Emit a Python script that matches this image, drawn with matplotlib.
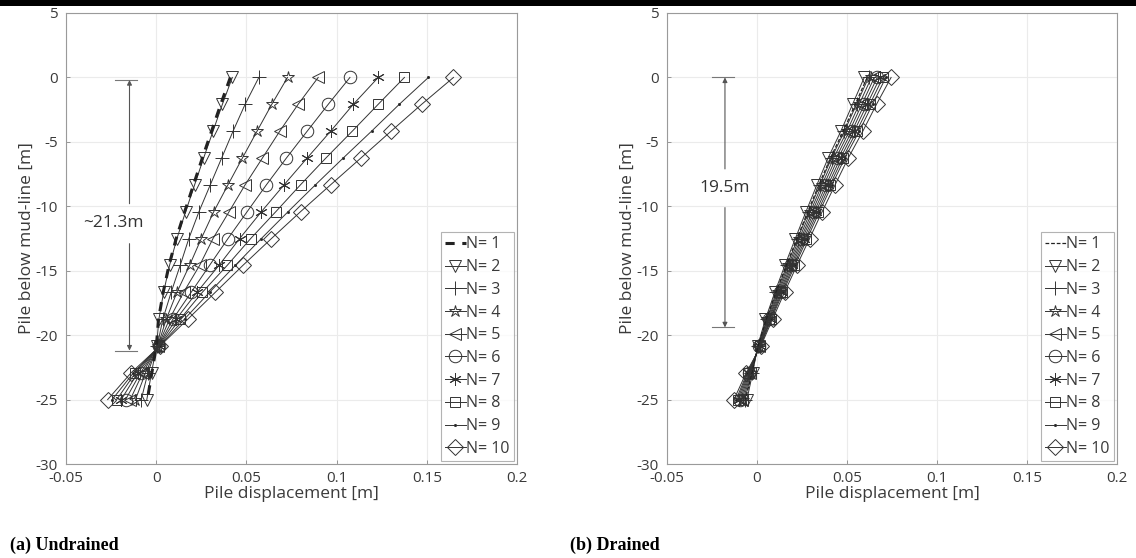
import matplotlib
matplotlib.use("Agg")
import matplotlib.pyplot as plt
from matplotlib.patches import Rectangle

# depth below mud-line [m]
depth = [0, -2.08, -4.17, -6.25, -8.33, -10.42, -12.5, -14.58, -16.67,
         -18.75, -20.83, -22.92, -25]

n_labels = ["N= 1", "N= 2", "N= 3", "N= 4", "N= 5",
            "N= 6", "N= 7", "N= 8", "N= 9", "N= 10"]

# (a) undrained pile displacement [m]
und_n1 = [0.0411, 0.0358, 0.0307, 0.0256, 0.0207, 0.0158, 0.0111, 0.0071, 0.0039, 0.0013, 0.0001, -0.0024, -0.0049]
und_n2 = [0.0422, 0.0367, 0.0315, 0.0263, 0.0213, 0.0163, 0.0115, 0.0074, 0.0041, 0.0015, 0.0002, -0.0026, -0.0052]
und_n3 = [0.0569, 0.0493, 0.0426, 0.0363, 0.0300, 0.0237, 0.0181, 0.0133, 0.0083, 0.0037, 0.0006, -0.0046, -0.0083]
und_n4 = [0.0728, 0.0641, 0.0559, 0.0478, 0.0398, 0.0319, 0.0250, 0.0185, 0.0115, 0.0056, 0.0009, -0.0059, -0.0115]
und_n5 = [0.0898, 0.0787, 0.0685, 0.0589, 0.0493, 0.0404, 0.0315, 0.0241, 0.0152, 0.0074, 0.0011, -0.0074, -0.0144]
und_n6 = [0.1074, 0.0954, 0.0837, 0.0722, 0.0611, 0.0504, 0.0398, 0.0296, 0.0194, 0.0093, 0.0013, -0.0087, -0.0170]
und_n7 = [0.1231, 0.1093, 0.0967, 0.0837, 0.0709, 0.0583, 0.0463, 0.0348, 0.0226, 0.0111, 0.0015, -0.0102, -0.0194]
und_n8 = [0.1376, 0.1231, 0.1087, 0.0941, 0.0800, 0.0663, 0.0524, 0.0394, 0.0256, 0.0133, 0.0017, -0.0115, -0.0219]
und_n9 = [0.1509, 0.1348, 0.1194, 0.1037, 0.0883, 0.0731, 0.0583, 0.0439, 0.0296, 0.0157, 0.0019, -0.0126, -0.0244]
und_n10 = [0.1648, 0.1472, 0.1302, 0.1135, 0.0967, 0.0800, 0.0639, 0.0481, 0.0328, 0.0176, 0.0022, -0.0139, -0.0269]

# (b) drained pile displacement [m]
dr_n1 = [0.0612, 0.0546, 0.0479, 0.0408, 0.0344, 0.0282, 0.0222, 0.0163, 0.0105, 0.0052, 0.0006, -0.0028, -0.0064]
dr_n2 = [0.0596, 0.0531, 0.0466, 0.0395, 0.0333, 0.0272, 0.0213, 0.0155, 0.0099, 0.0047, 0.0004, -0.0024, -0.0056]
dr_n3 = [0.0620, 0.0553, 0.0486, 0.0414, 0.0350, 0.0287, 0.0226, 0.0167, 0.0108, 0.0054, 0.0007, -0.0030, -0.0068]
dr_n4 = [0.0636, 0.0568, 0.0500, 0.0426, 0.0361, 0.0297, 0.0235, 0.0174, 0.0114, 0.0058, 0.0009, -0.0034, -0.0076]
dr_n5 = [0.0652, 0.0583, 0.0513, 0.0439, 0.0372, 0.0307, 0.0244, 0.0181, 0.0120, 0.0063, 0.0011, -0.0038, -0.0084]
dr_n6 = [0.0668, 0.0597, 0.0527, 0.0451, 0.0384, 0.0317, 0.0252, 0.0189, 0.0126, 0.0067, 0.0013, -0.0042, -0.0092]
dr_n7 = [0.0684, 0.0612, 0.0540, 0.0464, 0.0395, 0.0327, 0.0261, 0.0196, 0.0132, 0.0072, 0.0015, -0.0046, -0.0100]
dr_n8 = [0.0700, 0.0627, 0.0554, 0.0476, 0.0406, 0.0337, 0.0270, 0.0204, 0.0138, 0.0076, 0.0017, -0.0050, -0.0108]
dr_n9 = [0.0716, 0.0642, 0.0568, 0.0488, 0.0417, 0.0347, 0.0279, 0.0211, 0.0144, 0.0080, 0.0019, -0.0054, -0.0116]
dr_n10 = [0.0745, 0.0664, 0.0588, 0.0507, 0.0434, 0.0362, 0.0292, 0.0222, 0.0153, 0.0087, 0.0022, -0.0060, -0.0128]

undrained = [und_n1, und_n2, und_n3, und_n4, und_n5, und_n6, und_n7, und_n8, und_n9, und_n10]
drained = [dr_n1, dr_n2, dr_n3, dr_n4, dr_n5, dr_n6, dr_n7, dr_n8, dr_n9, dr_n10]

markers = [None, 'v', '+', '*', '<', 'o', (6, 2, 0), 's', '.', 'D']
msizes = [0, 8, 10, 9, 8, 9, 9, 7, 3, 8]

plt.rcParams['font.family'] = ['Open Sans', 'DejaVu Sans']
plt.rcParams['axes.unicode_minus'] = False

fig = plt.figure(figsize=(11.36, 5.58), dpi=100)
fig.patches.append(Rectangle((0, 0.989), 1, 0.011, transform=fig.transFigure,
                             facecolor='black', edgecolor='none'))

ax_a = fig.add_axes([66 / 1136, 94 / 558, 451 / 1136, 451 / 558])
ax_b = fig.add_axes([667 / 1136, 94 / 558, 450 / 1136, 451 / 558])

txt = '#3a3a3a'
for ax, series, thick in [(ax_a, undrained, True), (ax_b, drained, False)]:
    for i, xs in enumerate(series):
        if i == 0:
            if thick:
                ax.plot(xs, depth, color='#222222', lw=2.2, dashes=(3, 2.5),
                        label=n_labels[i], zorder=3)
            else:
                ax.plot(xs, depth, color='#222222', lw=0.9, dashes=(3, 1.5),
                        label=n_labels[i], zorder=3)
        else:
            m = markers[i]
            fc = '#222222' if m == '.' else 'none'
            ax.plot(xs, depth, color='#333333', lw=0.7, marker=m,
                    markersize=msizes[i], markerfacecolor=fc,
                    markeredgecolor='#333333', markeredgewidth=0.7,
                    label=n_labels[i])
    ax.set_xlim(-0.05, 0.2)
    ax.set_ylim(-30, 5)
    ax.set_xticks([-0.05, 0, 0.05, 0.1, 0.15, 0.2])
    ax.set_xticklabels(['-0.05', '0', '0.05', '0.1', '0.15', '0.2'])
    ax.set_yticks([-30, -25, -20, -15, -10, -5, 0, 5])
    ax.grid(True, color='#ebebeb', lw=0.8)
    ax.set_axisbelow(True)
    ax.tick_params(direction='in', length=3, width=0.6, colors='#888888',
                   labelcolor=txt, labelsize=11)
    ax.tick_params(axis='x', pad=5)
    ax.tick_params(axis='y', pad=6)
    for s in ax.spines.values():
        s.set_color('#9a9a9a')
        s.set_linewidth(0.8)
    ax.set_xlabel('Pile displacement [m]', fontsize=12.5, color=txt, labelpad=0)
    ax.set_ylabel('Pile below mud-line [m]', fontsize=12.5, color=txt, labelpad=0)
    leg = ax.legend(loc='lower right', fontsize=11.5, frameon=True, fancybox=False,
                    handlelength=1.3, handletextpad=0.05, labelspacing=0.42,
                    borderpad=0.25, borderaxespad=0.2, labelcolor=txt)
    leg.get_frame().set_edgecolor('#a0a0a0')
    leg.get_frame().set_linewidth(0.8)

# dimension arrows
arr = dict(arrowstyle='-|>', color='#555555', lw=0.8, mutation_scale=7, shrinkA=0, shrinkB=0)
ax_a.plot([-0.0226, -0.0104], [-0.2, -0.2], color='#777777', lw=0.8)
ax_a.plot([-0.0226, -0.0104], [-21.2, -21.2], color='#777777', lw=0.8)
ax_a.annotate('', xy=(-0.0148, -0.2), xytext=(-0.0148, -9.8), arrowprops=arr)
ax_a.annotate('', xy=(-0.0148, -21.2), xytext=(-0.0148, -12.9), arrowprops=arr)
ax_a.text(-0.0235, -11.3, '~21.3m', ha='center', va='center', fontsize=12.5, color='#333333')

ax_b.plot([-0.0248, -0.0126], [0, 0], color='#777777', lw=0.8)
ax_b.plot([-0.0248, -0.0126], [-19.4, -19.4], color='#777777', lw=0.8)
ax_b.annotate('', xy=(-0.0178, 0), xytext=(-0.0178, -7.1), arrowprops=arr)
ax_b.annotate('', xy=(-0.0178, -19.4), xytext=(-0.0178, -10.1), arrowprops=arr)
ax_b.text(-0.0180, -8.6, '19.5m', ha='center', va='center', fontsize=12.5, color='#333333')

fig.text(10 / 1136, 1 - 545 / 558, '(a) Undrained', family='Liberation Serif',
         fontweight='bold', fontsize=13, va='center', ha='left')
fig.text(570 / 1136, 1 - 545 / 558, '(b) Drained', family='Liberation Serif',
         fontweight='bold', fontsize=13, va='center', ha='left')

fig.savefig('out.png', dpi=100)
